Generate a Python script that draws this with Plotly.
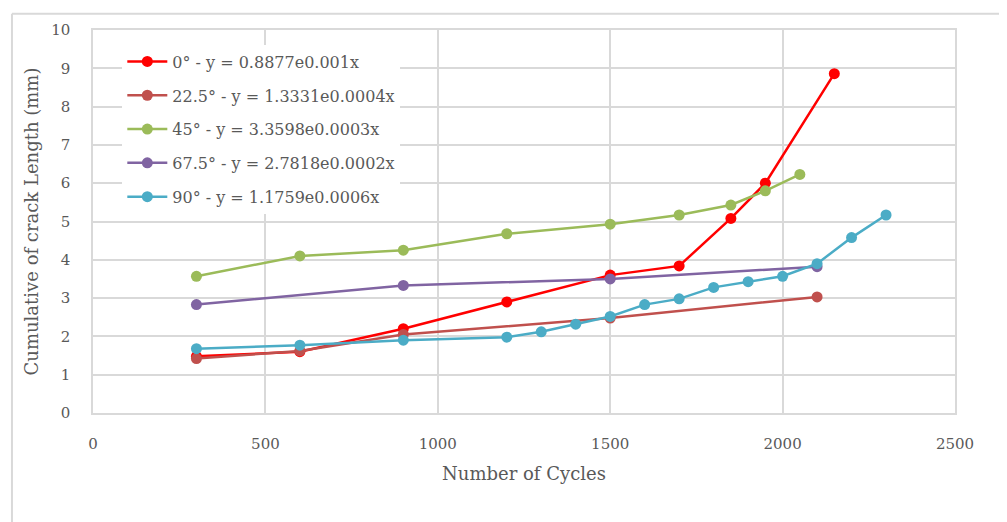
import plotly.graph_objects as go

# Data
names = [
    "0° - y = 0.8877e0.001x",
    "22.5° - y = 1.3331e0.0004x",
    "45° - y = 3.3598e0.0003x",
    "67.5° - y = 2.7818e0.0002x",
    "90° - y = 1.1759e0.0006x",
]
colors = ["#FF0000", "#C0504D", "#9BBB59", "#8064A2", "#4BACC6"]

x_0 = [300, 600, 900, 1200, 1500, 1700, 1850, 1950, 2150]
y_0 = [1.48, 1.6, 2.2, 2.9, 3.6, 3.84, 5.08, 6.0, 8.86]

x_225 = [300, 600, 900, 1500, 2100]
y_225 = [1.42, 1.62, 2.05, 2.48, 3.03]

x_45 = [300, 600, 900, 1200, 1500, 1700, 1850, 1950, 2050]
y_45 = [3.57, 4.1, 4.25, 4.68, 4.93, 5.17, 5.43, 5.8, 6.23]

x_675 = [300, 900, 1500, 2100]
y_675 = [2.83, 3.33, 3.5, 3.82]

x_90 = [300, 600, 900, 1200, 1300, 1400, 1500, 1600, 1700, 1800, 1900, 2000, 2100, 2200, 2300]
y_90 = [1.68, 1.77, 1.9, 1.98, 2.12, 2.32, 2.52, 2.83, 2.98, 3.28, 3.43, 3.57, 3.9, 4.58, 5.17]

series_x = [x_0, x_225, x_45, x_675, x_90]
series_y = [y_0, y_225, y_45, y_675, y_90]

x_ticks = [0, 500, 1000, 1500, 2000, 2500]
y_ticks = list(range(0, 11))

font_family = "DejaVu Serif"
text_color = "#595959"
grid_color = "#D9D9D9"

fig = go.Figure()
for i, (nm, c, xs, ys) in enumerate(zip(names, colors, series_x, series_y)):
    fig.add_trace(go.Scatter(
        x=xs, y=ys, name=nm, mode="lines+markers", legendgroup=f"g{i}",
        line=dict(color=c, width=2.5),
        marker=dict(color=c, size=11),
    ))

fig.update_layout(
    width=999, height=514,
    margin=dict(l=85, r=52, t=22, b=109),
    paper_bgcolor="white", plot_bgcolor="white",
    font=dict(family=font_family, color=text_color, size=15),
    showlegend=True,
    legend=dict(
        x=0.034, y=0.962, xanchor="left", yanchor="top",
        bgcolor="white", borderwidth=0,
        font=dict(family=font_family, size=16, color=text_color),
        tracegroupgap=10, itemwidth=40,
    ),
    xaxis=dict(
        range=[0, 2500], tickvals=x_ticks, ticktext=[str(v) for v in x_ticks],
        showgrid=True, gridcolor=grid_color, gridwidth=1.5,
        showline=True, linecolor=grid_color, linewidth=1.5, mirror=True,
        zeroline=False, ticks="", ticklabelstandoff=16,
        tickfont=dict(family=font_family, size=15, color=text_color),
        title=dict(text="Number of Cycles", standoff=16,
                   font=dict(family=font_family, size=18, color=text_color)),
    ),
    yaxis=dict(
        range=[0, 10], tickvals=y_ticks, ticktext=[str(v) for v in y_ticks],
        showgrid=True, gridcolor=grid_color, gridwidth=1.5,
        showline=True, linecolor=grid_color, linewidth=1.5, mirror=True,
        zeroline=False, ticks="", ticklabelstandoff=18,
        tickfont=dict(family=font_family, size=15, color=text_color),
        title=dict(text="Cumulative of crack Length (mm)", standoff=8,
                   font=dict(family=font_family, size=18, color=text_color)),
    ),
    shapes=[
        dict(type="line", xref="paper", yref="paper",
             x0=-0.094, x1=1.07, y0=1.0423, y1=1.0423,
             line=dict(color="#D9D9D9", width=2)),
        dict(type="line", xref="paper", yref="paper",
             x0=-0.094, x1=-0.094, y0=-0.3, y1=1.0423,
             line=dict(color="#D9D9D9", width=2)),
    ],
)

fig.write_html("out.html")
